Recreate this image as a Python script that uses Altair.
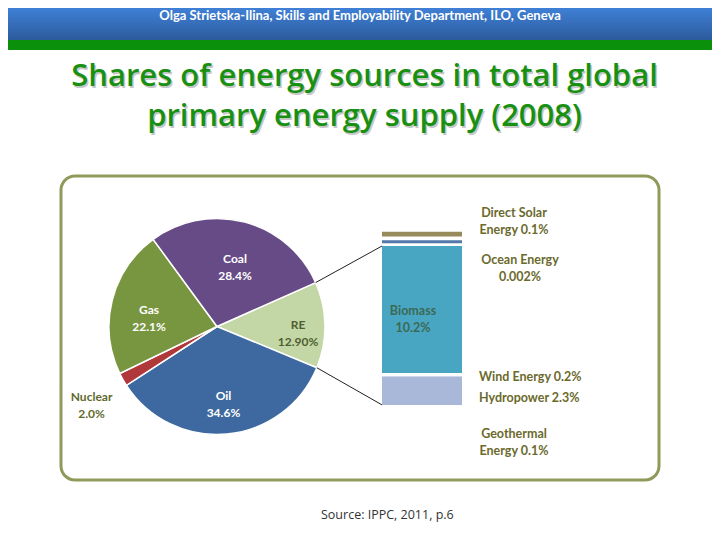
import math
import altair as alt
import pandas as pd

# ---------------- data ----------------
sources = ["RE", "Oil", "Nuclear", "Gas", "Coal"]
shares = [12.9, 34.6, 2.0, 22.1, 28.4]
pie_labels = ["RE\n12.90%", "Oil\n34.6%", "Nuclear\n2.0%", "Gas\n22.1%", "Coal\n28.4%"]
pie_label_group = ["re", "white", "outside", "white", "white"]

re_sources = ["Geothermal Energy", "Hydropower", "Wind Energy", "Biomass", "Ocean Energy", "Direct Solar Energy"]
re_shares = [0.1, 2.3, 0.2, 10.2, 0.002, 0.1]

header_text = "Olga Strietska-Ilina, Skills and Employability Department, ILO, Geneva"
title_lines = ["Shares of energy sources in total global", "primary energy supply (2008)"]
source_text = "Source: IPPC, 2011, p.6"

# ---------------- styles ----------------
pie_colors = ["#c3d6a6", "#3d69a0", "#b0373a", "#789640", "#674b86"]
re_colors = ["#ffffff", "#a9b7d8", "#ffffff", "#49a6c3", "#5578aa", "#978a5b"]
MIN_H = {"Direct Solar Energy": 0.38}   # drawn thickness of tiny segments (in % units)
MIN_H_DEFAULT = 0.25
GAP_AFTER = {"Biomass": 0.22, "Ocean Energy": 0.30}

W, H = 704, 524
CX, CY, R = 209, 318.5, 108
A0 = math.radians(66)
BAR_X = [374, 454]
BAR_Y = [400, 223.7]
FONT = "Lato"
LABEL_OLIVE = "#6b6a2c"

# ---------------- tables ----------------
pie_df = pd.DataFrame({
    "source": sources, "share": shares, "label": pie_labels,
    "grp": pie_label_group, "ord": list(range(len(sources))),
})

rows = []
cur = 0.0
for name, v in zip(re_sources, re_shares):
    h = max(v, MIN_H.get(name, MIN_H_DEFAULT))
    rows.append({"name": name, "share": v, "y0": cur, "y1": cur + h, "col": "RE"})
    cur += h + GAP_AFTER.get(name, 0.0)
bar_df = pd.DataFrame(rows)
bar_top = bar_df["y1"].max()


def ypix(v):
    return BAR_Y[0] + (v / bar_top) * (BAR_Y[1] - BAR_Y[0])


one = alt.Data(values=[{}])

# ---------------- decorations ----------------
header = alt.Chart(one).mark_rect(
    color=alt.Gradient(gradient="linear", x1=0, x2=0, y1=0, y2=1,
                       stops=[alt.GradientStop(color="#3f80d6", offset=0),
                              alt.GradientStop(color="#2c5b9c", offset=1)])
).encode(x=alt.value(0), x2=alt.value(W), y=alt.value(0), y2=alt.value(32))

green_band = alt.Chart(one).mark_rect(color="#0b900b").encode(
    x=alt.value(0), x2=alt.value(W), y=alt.value(32), y2=alt.value(42))

header_txt = alt.Chart(one).mark_text(
    text=header_text, font=FONT, fontSize=13, fontWeight="bold", color="white",
    align="center", baseline="alphabetic"
).encode(x=alt.value(352), y=alt.value(12))

title_layers = []
for i, line in enumerate(title_lines):
    yb = 78 + i * 40
    title_layers.append(alt.Chart(one).mark_text(
        text=line, font="Open Sans", fontSize=31, fontWeight=600, color="#9a9a9a", opacity=0.55,
        align="center", baseline="alphabetic").encode(x=alt.value(358), y=alt.value(yb + 1.5)))
    title_layers.append(alt.Chart(one).mark_text(
        text=line, font="Open Sans", fontSize=31, fontWeight=600, color="#189012",
        align="center", baseline="alphabetic").encode(x=alt.value(356.5), y=alt.value(yb)))

frame = alt.Chart(one).mark_rect(
    fillOpacity=0, stroke="#8e9b5b", strokeWidth=3, cornerRadius=14
).encode(x=alt.value(53), x2=alt.value(651), y=alt.value(168), y2=alt.value(472))

source = alt.Chart(one).mark_text(
    text=source_text, font="Open Sans", fontSize=12.5, color="#333333",
    align="left", baseline="alphabetic").encode(x=alt.value(313), y=alt.value(511))

# ---------------- pie ----------------
theta = alt.Theta("share:Q", stack=True,
                  scale=alt.Scale(range=[A0, A0 + 2 * math.pi]))
order = alt.Order("ord:Q")

arcs = alt.Chart(pie_df).mark_arc(outerRadius=R, stroke="white", strokeWidth=1.5).encode(
    theta=theta, order=order,
    color=alt.Color("source:N", scale=alt.Scale(domain=sources, range=pie_colors), legend=None),
    x=alt.value(CX), y=alt.value(CY))


def pie_text(group, radius, color):
    return alt.Chart(pie_df).transform_calculate(
        t=f"datum.grp == '{group}' ? datum.label : ''"
    ).mark_text(radius=radius, font=FONT, fontSize=12, fontWeight="bold", color=color,
                lineBreak="\n", lineHeight=17, align="center", baseline="middle").encode(
        theta=theta, order=order, text="t:N", x=alt.value(CX), y=alt.value(CY))


pie_white = pie_text("white", 70, "white")
pie_re = pie_text("re", 81, "#4e5f2f")
pie_out = pie_text("outside", 144, "#5f6a2d")

# ---------------- connectors ----------------
re_share = shares[0]
t1 = A0
t2 = A0 + 2 * math.pi * re_share / sum(shares)
p1 = (CX + R * math.sin(t1), CY - R * math.cos(t1))
p2 = (CX + R * math.sin(t2), CY - R * math.cos(t2))
bio = bar_df[bar_df["name"] == "Biomass"].iloc[0]
hyd = bar_df[bar_df["name"] == "Hydropower"].iloc[0]
conn_up = alt.Chart(one).mark_rule(color="#222222", strokeWidth=1).encode(
    x=alt.value(p1[0]), y=alt.value(p1[1]), x2=alt.value(BAR_X[0]), y2=alt.value(ypix(bio["y1"])))
conn_dn = alt.Chart(one).mark_rule(color="#222222", strokeWidth=1).encode(
    x=alt.value(p2[0]), y=alt.value(p2[1]), x2=alt.value(BAR_X[0]), y2=alt.value(ypix(hyd["y0"])))

# ---------------- RE bar ----------------
bar = alt.Chart(bar_df).mark_rect().encode(
    x=alt.X("col:N", scale=alt.Scale(range=BAR_X, paddingInner=0, paddingOuter=0), axis=None),
    y=alt.Y("y0:Q", scale=alt.Scale(domain=[0, bar_top], range=BAR_Y, nice=False, zero=True), axis=None),
    y2="y1:Q",
    color=alt.Color("name:N", scale=alt.Scale(domain=re_sources, range=re_colors), legend=None),
)


def note(text, x, y, align="center", color=LABEL_OLIVE):
    return alt.Chart(one).mark_text(
        text=text, font=FONT, fontSize=12.5, fontWeight="bold", color=color,
        lineBreak="\n", lineHeight=17, align=align, baseline="middle"
    ).encode(x=alt.value(x), y=alt.value(y))


notes = [
    note(f"Direct Solar\nEnergy {re_shares[5]}%", 506, 204.5),
    note(f"Ocean Energy\n{re_shares[4]}%", 512, 251.5),
    note(f"Biomass\n{re_shares[3]}%", 405, 302.5, color="#3b6a55"),
    note(f"Wind Energy {re_shares[2]}%", 471, 369, align="left"),
    note(f"Hydropower {re_shares[1]}%", 471, 390, align="left"),
    note(f"Geothermal\nEnergy {re_shares[0]}%", 506, 425.5),
]

chart = alt.layer(
    header, green_band, header_txt, *title_layers, frame,
    arcs, pie_white, pie_re, pie_out, conn_up, conn_dn, bar, *notes, source
).resolve_scale(color="independent").properties(
    width=W, height=H, padding=0, autosize=alt.AutoSizeParams(type="none"),
    background="white"
).configure_view(stroke=None)

chart.save("out.html", embed_options={"renderer": "svg", "actions": False})
